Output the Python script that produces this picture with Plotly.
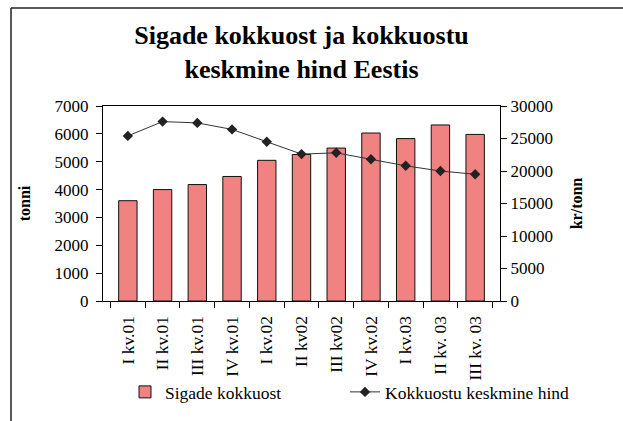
import plotly.graph_objects as go

categories = ["I kv.01", "II kv.01", "III kv.01", "IV kv.01", "I kv.02", "II kv02",
              "III kv02", "IV kv.02", "I kv.03", "II kv. 03", "III kv. 03"]
kokkuost = [3600, 4000, 4180, 4470, 5050, 5260, 5490, 6030, 5830, 6320, 5980]
hind = [25400, 27600, 27400, 26400, 24500, 22600, 22800, 21800, 20800, 20000, 19500]

W, H = 623, 421
L, R, T, B = 103, 500, 106, 301

FONT = "Liberation Serif"

fig = go.Figure()
fig.add_trace(go.Bar(
    x=categories, y=kokkuost, name="Sigade kokkuost",
    marker=dict(color="#F08282", line=dict(color="#111111", width=1)),
    yaxis="y", legend="legend",
))
fig.add_trace(go.Scatter(
    x=categories, y=hind, name="Kokkuostu keskmine hind",
    mode="lines+markers",
    line=dict(color="#333333", width=1),
    marker=dict(symbol="diamond", size=8, color="#222222"),
    yaxis="y2", legend="legend2",
))

def px_x(p):
    return (p - L) / (R - L)

def px_y(p):
    return (B - p) / (B - T)

leg_common = dict(orientation="h", xref="container", yref="container",
                  xanchor="left", yanchor="top",
                  font=dict(family=FONT, size=17.5, color="black"),
                  bgcolor="rgba(0,0,0,0)")

fig.update_layout(
    width=W, height=H,
    margin=dict(l=L, r=W - R, t=T, b=H - B, pad=0, autoexpand=False),
    paper_bgcolor="white", plot_bgcolor="white",
    font=dict(family=FONT, size=16, color="black"),
    title=dict(text="<b>Sigade kokkuost ja kokkuostu<br>keskmine hind Eestis</b>",
               x=0.5, xref="paper", xanchor="center",
               y=1 - 44 / H, yref="container", yanchor="top",
               font=dict(family=FONT, size=26, color="black")),
    bargap=0.47,
    showlegend=True,
    legend=dict(x=125 / W, y=1 - 374 / H, **leg_common),
    legend2=dict(x=345 / W, y=1 - 374 / H, **leg_common),
    xaxis=dict(
        type="category", showline=True, linecolor="black", linewidth=1, mirror=True,
        ticks="outside", ticklen=6, tickcolor="black", tickson="boundaries",
        tickangle=-90, showgrid=False, zeroline=False, automargin=False,
        ticklabelstandoff=7,
        tickfont=dict(family=FONT, size=17.5, color="black"),
    ),
    yaxis=dict(
        range=[0, 7000], dtick=1000, showline=True, linecolor="black", linewidth=1,
        ticks="outside", ticklen=6, tickcolor="black", showgrid=False, zeroline=False,
        automargin=False, tickformat="d", ticklabelstandoff=4,
        title=dict(text="<b>tonni</b>", standoff=19, font=dict(family=FONT, size=16)),
        tickfont=dict(family=FONT, size=17, color="black"),
    ),
    yaxis2=dict(
        range=[0, 30000], dtick=5000, overlaying="y", side="right",
        showline=True, linecolor="black", linewidth=1, automargin=False, tickformat="d",
        ticks="outside", ticklen=6, tickcolor="black", showgrid=False, zeroline=False,
        title=dict(text="<b>kr/tonn</b>", standoff=18, font=dict(family=FONT, size=16)),
        tickfont=dict(family=FONT, size=17, color="black"),
    ),
    shapes=[
        dict(type="line", xref="paper", yref="paper",
             x0=px_x(11), x1=px_x(623), y0=px_y(8), y1=px_y(8),
             line=dict(color="#222222", width=1.5)),
        dict(type="line", xref="paper", yref="paper",
             x0=px_x(11), x1=px_x(11), y0=px_y(8), y1=px_y(421),
             line=dict(color="#222222", width=1.5)),
    ],
)

fig.write_html("out.html", config={"displayModeBar": False},
               post_script="document.body.style.margin='0';document.body.style.overflow='hidden';")
